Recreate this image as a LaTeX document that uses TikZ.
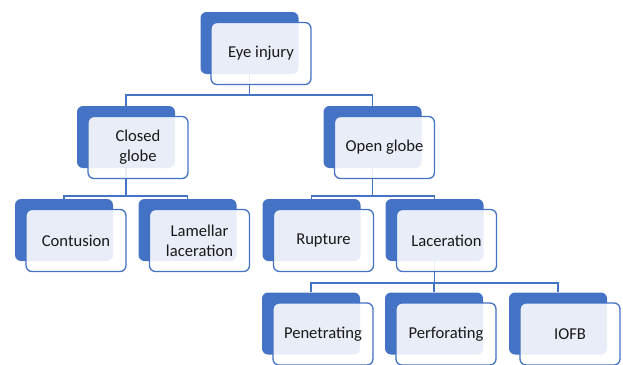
\documentclass[tikz,border=0pt]{standalone}
\usepackage{fontspec}
\setmainfont{Carlito}
\definecolor{ob}{HTML}{4472C4}
\begin{document}
\begin{tikzpicture}[x=1pt,y=-1pt,
 back/.style={fill=ob, rounded corners=6pt, minimum width=98pt, minimum height=62pt, inner sep=0pt},
 front/.style={draw=ob, line width=1.3pt, fill=white, fill opacity=0.88, text opacity=1, rounded corners=6pt, minimum width=100pt, minimum height=62pt, inner sep=0pt, align=center, font=\fontsize{16.6}{20}\selectfont, text=black!90},
 conn/.style={draw=ob, line width=1.3pt}]
\useasboundingbox (0,0) rectangle (623,364);
\clip (0,0) rectangle (623,364);
% back boxes
\node[back] (eye) at (249.5,43) {};
\node[back] (closed) at (126,137) {};
\node[back] (open) at (372.5,137) {};
\node[back] (cont) at (64,230) {};
\node[back] (lam) at (187.5,230) {};
\node[back] (rup) at (311.5,230) {};
\node[back] (lac) at (434.5,230) {};
\node[back] (pen) at (311,323.5) {};
\node[back] (perf) at (434,323.5) {};
\node[back] (iofb) at (558,323.5) {};
% buses
\coordinate (b1) at (0,95);
\coordinate (b2) at (0,196);
\coordinate (b3) at (0,283);
% connectors
\draw[conn] (eye.south) -- (eye.south |- b1) -| (closed.north);
\draw[conn] (eye.south |- b1) -| (open.north);
\draw[conn] (closed.south) -- (closed.south |- b2) -| (cont.north);
\draw[conn] (closed.south |- b2) -| (lam.north);
\draw[conn] (open.south) -- (open.south |- b2) -| (rup.north);
\draw[conn] (open.south |- b2) -| (lac.north);
\draw[conn] (lac.south) -- (lac.south |- b3) -| (pen.north);
\draw[conn] (lac.south |- b3) -| (perf.north);
\draw[conn] (lac.south |- b3) -| (iofb.north);
% front boxes
\node[front] (eyef) at ([shift={(11.5,10.5)}]eye.center) {Eye injury};
\node[front] (closedf) at ([shift={(12,10.5)}]closed.center) {Closed\\globe};
\node[front] (openf) at ([shift={(12,10.5)}]open.center) {Open globe};
\node[front] (contf) at ([shift={(12,10.5)}]cont.center) {Contusion};
\node[front] (lamf) at ([shift={(12,10.5)}]lam.center) {Lamellar\\laceration};
\node[front] (rupf) at ([shift={(12,10.5)}]rup.center) {Rupture};
\node[front] (lacf) at ([shift={(12,10.5)}]lac.center) {Laceration};
\node[front] (penf) at ([shift={(12,10.5)}]pen.center) {Penetrating};
\node[front] (perff) at ([shift={(12,10.5)}]perf.center) {Perforating};
\node[front] (iofbf) at ([shift={(12,10.5)}]iofb.center) {IOFB};
\end{tikzpicture}
\end{document}
